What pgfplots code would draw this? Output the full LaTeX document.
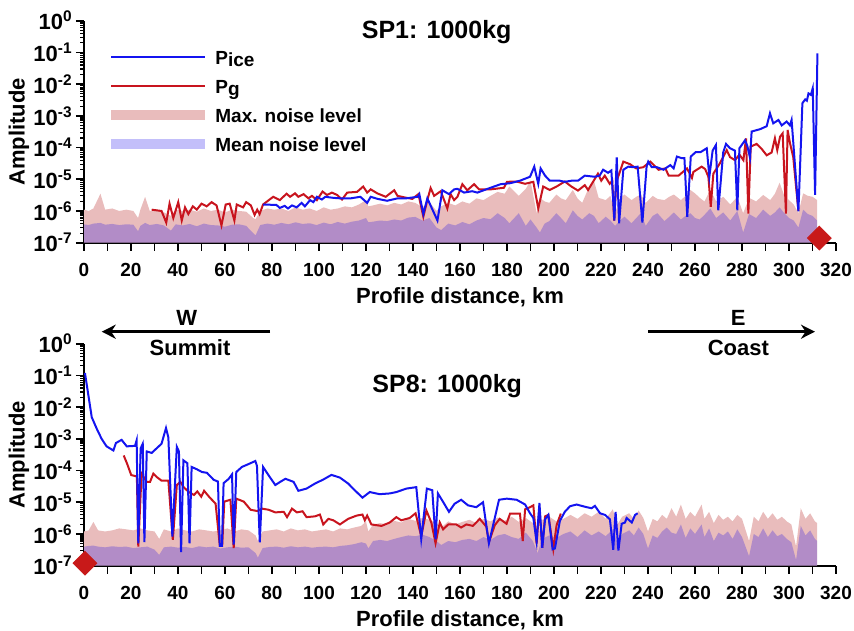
\documentclass[border=0pt]{standalone}
\usepackage{fontspec}
\setmainfont{Liberation Sans}
\usepackage{pgfplots}
\usepackage{pgfplotstable}
\pgfplotsset{compat=1.18}
\usetikzlibrary{arrows.meta}

\definecolor{blueline}{RGB}{20,20,240}
\definecolor{redline}{RGB}{200,20,30}
\definecolor{pinkfill}{RGB}{233,188,188}
\definecolor{meanblue}{RGB}{15,0,235}
\definecolor{diam}{RGB}{200,25,25}

\newcommand\tickfont{\fontsize{9.5}{11}\selectfont\bfseries}
\newcommand\ytickfont{\fontsize{11}{13}\selectfont\bfseries}
\newcommand\labfont{\fontsize{11}{13}\selectfont\bfseries}
\newcommand\legfont{\fontsize{9.5}{11}\selectfont\bfseries}
\newcommand\titfont{\fontsize{12.5}{14}\selectfont\bfseries}

\tikzset{lline/.style={}, larea/.style={}}
\pgfplotsset{
  lline/.style={legend image code/.code={\draw[##1] (0pt,0pt) -- (47pt,0pt);}},
  larea/.style={legend image code/.code={\fill[##1] (0pt,-2.6pt) rectangle (47pt,2.6pt);}},
}

% ---------------- data ----------------
\pgfplotstableread{
x max mean
0 1e-7 1e-7
0 1.1e-6 3.8e-7
2 1.0e-6 3.6e-7
4 1.2e-6 4.0e-7
7 3.5e-6 4.2e-7
9 1.1e-6 3.7e-7
12 1.2e-6 3.9e-7
15 1.0e-6 3.6e-7
18 1.1e-6 3.8e-7
21 1.0e-6 3.7e-7
23 6.0e-7 2.3e-7
24 1.1e-6 3.4e-7
26 2.8e-6 4.2e-7
28 1.0e-6 3.6e-7
31 1.1e-6 3.9e-7
34 9.0e-7 3.5e-7
37 7.0e-7 2.4e-7
39 1.1e-6 3.8e-7
42 1.0e-6 3.5e-7
45 1.1e-6 3.9e-7
48 9.5e-7 3.3e-7
51 1.2e-6 4.0e-7
54 1.0e-6 3.6e-7
57 1.1e-6 3.5e-7
60 9.0e-7 3.2e-7
63 1.1e-6 3.7e-7
66 1.0e-6 3.8e-7
69 9.5e-7 3.4e-7
72 6.0e-7 2.0e-7
73 5.5e-7 1.7e-7
75 1.0e-6 3.6e-7
78 1.2e-6 4.0e-7
81 1.1e-6 3.7e-7
84 1.2e-6 4.2e-7
87 1.0e-6 3.8e-7
90 1.3e-6 4.4e-7
93 1.1e-6 3.9e-7
96 1.2e-6 4.1e-7
99 1.0e-6 3.6e-7
102 1.3e-6 4.3e-7
105 1.1e-6 3.8e-7
108 1.2e-6 4.5e-7
111 1.4e-6 4.0e-7
114 1.3e-6 4.6e-7
117 1.6e-6 5.0e-7
120 2.2e-6 6.0e-7
121 1.4e-6 4.4e-7
123 1.5e-6 4.6e-7
126 1.7e-6 5.0e-7
129 1.5e-6 4.8e-7
132 1.8e-6 5.4e-7
135 1.6e-6 5.0e-7
138 2.0e-6 6.2e-7
141 1.8e-6 6.5e-7
144 1.3e-6 5.0e-7
147 1.9e-6 6.0e-7
150 1.0e-6 3.0e-7
152 1.4e-6 2.5e-7
155 1.8e-6 4.0e-7
158 1.5e-6 3.5e-7
161 2.0e-6 4.5e-7
164 1.7e-6 3.8e-7
167 2.5e-6 5.0e-7
170 2.2e-6 6.0e-7
173 3.0e-6 5.5e-7
176 4.0e-6 8.5e-7
179 3.5e-6 6.0e-7
181 5.9e-6 4.1e-7
185 3.0e-6 8.5e-7
188 5.0e-6 3.4e-7
190 9.0e-6 5.4e-7
192.6 8.5e-7 3.0e-7
194 2.6e-6 2.1e-7
196 2.0e-6 4.0e-7
198 1.8e-6 4.8e-7
201 3.3e-6 8.5e-7
203 2.5e-6 6.0e-7
205 2.2e-6 4.1e-7
208 4.6e-6 1.05e-6
210 2.5e-6 7.0e-7
212 1.8e-6 5.4e-7
215 5.9e-6 8.5e-7
217 9.0e-6 7.0e-7
219 2.6e-6 4.1e-7
222 2.2e-6 6.6e-7
224 3.0e-6 5.0e-7
226 8.5e-7 3.4e-7
228 2.5e-6 5.0e-7
230 3.3e-6 6.6e-7
233 2.2e-6 4.1e-7
235 2.8e-6 6.0e-7
237 3.3e-6 8.5e-7
239 1.8e-6 3.4e-7
242 3.0e-6 7.0e-7
244 2.4e-6 8.5e-7
247 2.2e-6 4.8e-7
249 2.8e-6 6.5e-7
251 3.3e-6 9.0e-7
254 2.2e-6 5.4e-7
256 3.0e-6 7.0e-7
258 4.6e-6 8.5e-7
260 3.6e-6 6.0e-7
262 2.6e-6 5.4e-7
264 2.0e-6 7.5e-7
266.5 4.6e-6 1.2e-6
269 2.0e-6 6.0e-7
272 2.8e-6 9.0e-7
275 1.6e-6 5.0e-7
278 2.8e-6 1.0e-6
280.5 8.5e-7 2.1e-7
283 2.6e-6 8.0e-7
286 2.0e-6 6.0e-7
289 3.2e-6 1.1e-6
292 2.2e-6 7.0e-7
294 3.5e-6 9.0e-7
296 7.8e-6 1.3e-6
298 3.0e-6 8.5e-7
300 2.2e-6 6.0e-7
302 1.6e-6 5.0e-7
304 8.5e-7 3.0e-7
306 3.6e-6 1.1e-6
308 3.0e-6 8.0e-7
310 2.8e-6 7.0e-7
312 2.2e-6 5.0e-7
312 1e-7 1e-7
}\noiseTop

\pgfplotstableread{
x y
28.8 1.1e-6
33 1.0e-6
35 4.3e-7
36.4 1.7e-6
38 6e-7
40.1 1.9e-6
41.6 5e-7
43 1.3e-6
44.4 8e-7
46.3 1.4e-6
48 1.1e-6
50 1.7e-6
52.2 1.4e-6
54.3 1.9e-6
56.4 1.5e-6
58.5 3.5e-7
60.3 1.6e-6
62 1.7e-6
64 5e-7
65 1.6e-6
67.7 1.3e-6
69 1.9e-6
71 1.5e-6
72.6 7.5e-7
73.7 1.1e-6
74.7 8e-7
76.2 1.6e-6
80.5 2.8e-6
83.3 2.2e-6
86.2 3.5e-6
87.7 2.8e-6
89.8 3.6e-6
91.2 2.8e-6
93.4 3.4e-6
95.5 2.5e-6
97 3e-6
99.1 2.2e-6
101.5 4.1e-6
103.4 3.2e-6
105.5 3.8e-6
107.7 3.2e-6
109.8 2.3e-6
112 3.8e-6
116.2 4e-6
118.8 5.9e-6
120.5 3.8e-6
122 4.8e-6
124.8 3.6e-6
128.4 2.8e-6
132 4.5e-6
133.4 3e-6
136.2 2.7e-6
139.7 2.4e-6
142.3 3.4e-6
144.4 6.6e-7
146.1 2.2e-6
147.5 5.3e-6
149 3e-6
151.8 4.2e-6
154.6 1.2e-6
156 3.4e-6
157.5 2.2e-6
158.9 2.8e-6
161 7e-6
163.1 4.5e-6
166 7e-6
168.1 4.8e-6
173 4.8e-6
178.7 5.4e-6
180 8.3e-6
184 8.5e-6
187.7 7.2e-6
191.2 8.3e-6
193.3 1.2e-6
195.4 5.9e-6
198.2 4.6e-6
201.1 5.9e-6
204.6 8.5e-6
207.4 5.9e-6
210.2 4.4e-6
213.1 6.5e-6
214.5 4.6e-6
216.6 8.3e-6
218.7 1.5e-5
220.1 9e-6
221.6 1.3e-5
223.7 7.2e-6
224.8 9e-6
225.6 5e-7
226.5 8e-6
229.5 3.6e-5
232.3 3e-5
235 2.2e-5
238 2.4e-5
241 3.6e-5
244.5 2e-5
247.4 2.2e-5
248.8 1.3e-5
253 1.3e-5
256.6 2.2e-5
258.7 1.1e-5
259.3 1.7e-5
262.8 2.5e-5
264.3 2.1e-5
265.7 1.2e-5
266.7 1.35e-6
267.8 1.5e-5
270.6 3.2e-5
273.5 8.3e-5
274.9 5e-5
277 4e-5
278.9 6e-5
280.6 4e-5
281.7 1.95e-4
282.7 8.3e-7
283.7 1.07e-4
286.2 1.3e-4
288.4 9e-5
290.5 5.7e-5
292.6 7e-5
294 1.95e-4
295 8.3e-5
296.2 2.2e-4
297.3 2.8e-4
298.7 8.3e-7
299.4 3.6e-4
300.4 1.4e-4
301.8 5e-5
304 1e-6
}\pgTop

\pgfplotstableread{
x y
76.2 1.6e-6
81.9 1.55e-6
83.3 1.25e-6
85.4 1.45e-6
86.8 1.2e-6
88.5 1.5e-6
90.5 1.3e-6
92.6 1.8e-6
94.0 1.4e-6
96.2 2.2e-6
97.6 1.9e-6
99.1 2.8e-6
101.2 2.3e-6
102.7 2.8e-6
106 2.6e-6
109.1 2.5e-6
113.4 2.5e-6
117.6 2.8e-6
120.5 1.8e-6
122.0 2.8e-6
125 2.4e-6
129.0 2.1e-6
133.4 2.5e-6
137.0 2.5e-6
142.0 2.8e-6
142.7 3.4e-6
144.4 8e-7
146.1 2.5e-6
150.4 5e-7
152.5 4.5e-6
155.3 3.4e-6
157.5 4.8e-6
158.9 5e-6
161.7 3.8e-6
165.2 4.2e-6
167.4 3.8e-6
173.0 5.4e-6
177.3 7e-6
181.3 7.5e-6
185.5 9e-6
189.8 1.2e-5
191.6 2.5e-5
193.3 7.2e-6
194.3 2.2e-5
196.2 1.3e-5
198.2 9e-6
202.5 9e-6
204.6 8.3e-6
207.4 9e-6
210.2 9e-6
213.1 1.3e-5
217.3 1.2e-5
219.4 1.3e-5
220.9 2e-5
223.0 1.6e-5
224.4 1.9e-5
225.7 5e-7
226.7 4.9e-5
227.7 4.1e-7
229.5 2e-5
231.6 2.5e-5
233.8 2.4e-5
235.6 2.5e-5
237.6 4.3e-7
239.4 2.5e-5
240.1 3.6e-5
241.6 2.4e-5
243.8 2.4e-5
246.6 2e-5
249.5 2.8e-5
250.9 2.2e-5
252.3 5.2e-5
254.5 4.6e-5
255.5 4.6e-5
256.7 6.6e-7
258.2 5.2e-5
260.3 7.2e-5
262.4 7.2e-5
265.0 9.5e-5
266.1 1.2e-5
267.5 8e-5
268.9 1.2e-4
269.9 1.05e-6
272.0 7e-5
273.2 1.3e-4
274.9 9.5e-5
277.0 8e-5
278.0 1.05e-6
278.9 9.5e-5
281.3 1.7e-4
282.3 1.1e-4
283.4 4.8e-5
284.1 3.2e-4
287.7 3.8e-4
290.5 4.7e-4
291.9 1.2e-3
293.3 5.8e-4
295.5 7.4e-4
296.9 5e-4
299.0 6.6e-4
300.4 5e-4
301.1 7.4e-4
304.0 9.7e-7
305.7 2.5e-3
306.9 3.3e-3
307.6 3e-3
308.3 5.1e-3
309.3 4.6e-3
310.1 7.4e-3
311.1 3.2e-6
312.1 9.3e-2
}\piceTop

\pgfplotstableread{
x max mean
0 1e-7 1e-7
0 1.2e-6 4.0e-7
2 1.3e-6 4.2e-7
4 2.4e-6 4.3e-7
6 1.3e-6 4.0e-7
9 1.2e-6 3.8e-7
12 1.3e-6 4.1e-7
15 1.5e-6 3.9e-7
18 1.4e-6 4.0e-7
21 1.3e-6 3.6e-7
24 1.5e-6 3.8e-7
27 1.3e-6 4.0e-7
30 1.2e-6 3.2e-7
32 7.0e-7 2.2e-7
34 1.4e-6 3.8e-7
37 1.2e-6 4.0e-7
40 1.5e-6 3.7e-7
43 1.3e-6 3.9e-7
46 1.2e-6 3.6e-7
49 1.4e-6 4.1e-7
52 1.3e-6 3.8e-7
55 1.2e-6 4.0e-7
58 1.3e-6 3.5e-7
61 1.5e-6 3.8e-7
64 1.2e-6 4.0e-7
67 1.4e-6 3.7e-7
70 1.3e-6 3.8e-7
73 9.0e-7 2.5e-7
74 6.0e-7 1.8e-7
76 1.2e-6 3.6e-7
79 1.3e-6 3.9e-7
82 1.4e-6 4.0e-7
85 1.2e-6 3.7e-7
88 1.5e-6 4.1e-7
91 1.3e-6 3.8e-7
94 1.4e-6 4.0e-7
97 1.2e-6 3.7e-7
100 1.3e-6 3.9e-7
103 1.4e-6 4.0e-7
106 1.2e-6 3.8e-7
109 1.5e-6 4.2e-7
112 1.4e-6 4.4e-7
115 1.6e-6 4.8e-7
118 1.8e-6 5.5e-7
120 2.5e-6 5.0e-7
121 1.2e-6 3.5e-7
123 2.0e-6 6.0e-7
126 2.2e-6 6.5e-7
129 2.0e-6 6.0e-7
132 2.6e-6 7.0e-7
135 2.3e-6 8.0e-7
138 3.0e-6 9.0e-7
141 2.6e-6 8.5e-7
144 3.2e-6 9.5e-7
147 2.8e-6 8.0e-7
150 2.2e-6 6.0e-7
152 1.6e-6 4.5e-7
155 2.5e-6 6.0e-7
158 2.0e-6 5.5e-7
161 2.4e-6 6.5e-7
164 2.8e-6 7.0e-7
167 2.2e-6 6.0e-7
170 3.0e-6 8.0e-7
173 2.5e-6 6.5e-7
176 3.3e-6 9.0e-7
179 2.6e-6 1.0e-6
182 3.5e-6 8.0e-7
185 2.4e-6 7.0e-7
188 3.2e-6 1.1e-6
191 2.2e-6 6.0e-7
193 8.0e-7 2.5e-7
195 2.8e-6 7.0e-7
198 3.5e-6 9.0e-7
201 2.5e-6 7.5e-7
204 3.0e-6 1.0e-6
207 4.0e-6 1.2e-6
210 3.0e-6 8.0e-7
213 4.5e-6 1.3e-6
216 3.5e-6 9.0e-7
219 5.0e-6 1.2e-6
222 3.0e-6 8.5e-7
225 6.0e-6 1.4e-6
227 2.0e-6 5.0e-7
229 3.5e-6 1.0e-6
232 4.5e-6 1.3e-6
234 3.0e-6 9.0e-7
236 5.5e-6 1.6e-6
238 3.2e-6 1.0e-6
240 1.2e-6 3.5e-7
242 3.0e-6 9.0e-7
244 2.5e-6 7.5e-7
246 4.0e-6 1.2e-6
248 3.0e-6 1.6e-6
250 6.5e-6 1.1e-6
252 3.5e-6 1.0e-6
254 8.5e-6 2.0e-6
256 3.0e-6 7.5e-7
258 5.0e-6 1.5e-6
260 3.5e-6 1.0e-6
262.8 8.5e-6 2.0e-6
264 3.0e-6 8.0e-7
266 5.0e-6 1.5e-6
268 2.2e-6 6.0e-7
270 4.0e-6 1.1e-6
272 2.8e-6 9.0e-7
274 3.5e-6 1.2e-6
276 2.5e-6 7.0e-7
278 4.0e-6 1.4e-6
280 3.0e-6 8.0e-7
283 6.0e-7 2.0e-7
285 3.5e-6 1.0e-6
287 2.5e-6 8.0e-7
289 5.0e-6 1.5e-6
291 3.0e-6 8.0e-7
293 4.5e-6 1.3e-6
295 2.8e-6 8.5e-7
297 3.5e-6 1.0e-6
299 2.5e-6 7.0e-7
301 2.0e-6 5.5e-7
303 4.0e-7 1.5e-7
305 6.5e-6 1.8e-6
307 3.0e-6 9.0e-7
309 4.5e-6 1.3e-6
311 2.5e-6 7.0e-7
312 2.2e-6 6.0e-7
312 1e-7 1e-7
}\noiseBot

\pgfplotstableread{
x y
16.9 3e-4
18.4 1.6e-4
20.1 7.2e-5
22.5 6.5e-5
23.1 4e-7
24.5 8e-5
26.7 4.4e-5
28.1 4.4e-5
29.5 8e-5
30.9 6.3e-5
33 4.8e-5
35.9 4.8e-5
37.8 6.5e-7
39.5 3.5e-5
41 4.4e-5
42.4 3e-5
44.6 2.1e-5
46.8 1.7e-5
48.2 2.2e-5
49.9 1.5e-5
51.1 2.3e-5
53.2 1.5e-5
56 9e-6
57.8 4.2e-7
58.8 4.2e-7
59.7 1.05e-5
62.3 1.2e-5
63.7 3.6e-7
64.8 1.3e-5
68 1.05e-5
70.9 5.8e-6
73.7 5.3e-6
75.8 6.3e-6
78.6 5.8e-6
81.4 4.8e-6
85 5e-6
86.4 3.4e-6
88.5 6.3e-6
90.6 4.8e-6
93 5.2e-6
94.7 3.4e-6
98.3 3.6e-6
100.4 4.1e-6
101.8 2e-6
104 3e-6
106.1 2.7e-6
108.9 2e-6
112.4 3e-6
116 3.8e-6
118.5 4.1e-6
119.5 2.7e-6
120.5 3.8e-6
122.3 2e-6
126.6 1.8e-6
130.1 2.3e-6
132.9 3.4e-6
135 2.7e-6
138.6 3.2e-6
141.1 4.5e-6
143.5 8.5e-7
145.7 5.5e-6
147.8 2.3e-6
149.6 5.1e-7
151.4 2.3e-6
152.8 1.4e-6
155 2e-6
158.4 2e-6
160.5 1.6e-6
162.7 2e-6
165.5 1.8e-6
168.4 3e-6
171.2 1.7e-6
172.3 5.5e-7
174.8 1.9e-6
176.9 3e-6
179.8 2.1e-6
181.3 4.4e-6
185.5 4.4e-6
186.7 6e-7
187.7 6e-6
189.8 7e-6
191.2 8e-6
192.6 5e-7
193.8 7e-6
195 3.7e-7
196.2 3.6e-6
197.6 4e-6
199.7 3.3e-7
201.1 1.9e-6
202.9 4.4e-6
}\pgBot

\pgfplotstableread{
x y
0.4 0.12
3.3 4.8e-3
5.4 2.1e-3
7.5 1e-3
9.6 5.8e-4
12.5 4.3e-4
13.6 7.4e-4
16 9.3e-4
18.2 5.8e-4
21.7 6e-4
22.4 9e-4
23.1 5.1e-7
24.1 5e-4
25 7e-4
25.7 5.5e-7
26.7 4e-4
28.8 3.6e-4
33 7e-4
34.9 2.2e-3
35.9 1.1e-3
37.6 8.3e-7
39.5 5.6e-4
40.4 4e-4
41.3 2.7e-7
42.3 2.1e-4
44 1.7e-4
44.9 5.1e-7
45.8 1.3e-4
48 1.1e-4
50.2 9e-5
52.3 8.5e-5
55.2 5.1e-5
57 4.5e-5
57.8 4.2e-7
58.7 4.2e-7
59.4 4e-5
61.6 5.5e-5
63 7.6e-5
63.7 4.6e-7
64.8 9e-5
67.2 1.3e-4
70 1.6e-4
72.9 2e-4
73.6 1.4e-4
74.8 5.5e-7
76.2 1.3e-4
78.6 7e-5
81.4 3.5e-5
83.5 4.4e-5
85.7 5.5e-5
89.2 4.4e-5
91.2 2.3e-5
94.7 2.7e-5
98.3 3.9e-5
101.8 5.2e-5
105.3 7.3e-5
108.9 6e-5
112.4 3.9e-5
115.2 2.4e-5
118.5 1.4e-5
121.6 2.1e-5
125.8 1.8e-5
130.1 1.9e-5
132.9 2.1e-5
137.2 2.7e-5
141.4 3e-5
143.5 7e-7
145.9 2.7e-5
148.2 2.4e-5
149.6 6.8e-7
150.6 1.9e-5
152.8 1.03e-5
155.3 5e-6
157.7 9e-6
160.5 1.2e-5
163.4 8e-6
166.9 7e-6
169.8 1e-5
172.3 5.1e-7
176.6 1.2e-5
179.9 1.3e-5
184.1 1.2e-5
187.7 8.5e-6
189.8 4.5e-6
191.2 3.2e-6
192.6 5.7e-7
193.8 9.5e-6
195 3.7e-7
196.2 2.9e-6
197.6 4e-6
199.4 3.3e-7
200.4 3.5e-7
202.5 2.6e-6
204.6 5e-6
206.8 7.5e-6
209.6 8.5e-6
213.9 7e-6
216 6.5e-6
217.4 7.7e-6
219.6 4.5e-6
221.7 4e-6
223.8 2.9e-6
225.2 3.2e-7
226.2 5e-6
227.4 3e-7
228.8 2.1e-6
230.2 2.3e-6
230.9 3.2e-6
233.1 2.3e-6
234.5 4e-6
235.6 4.5e-6
}\piceBot

\begin{document}
\begin{tikzpicture}[font=\bfseries]
\useasboundingbox (0pt,0pt) rectangle (427pt,315pt);

% ---------------- top panel ----------------
\begin{axis}[at={(42pt,193.65pt)}, anchor=south west,
    scale only axis, width=376pt, height=111pt,
    xmin=0, xmax=320, ymin=1e-7, ymax=1, ymode=log,
    axis x line=bottom, axis y line=left,
    axis line style={-, line width=1pt},
    tick align=outside, major tick length=4pt, minor tick length=2pt,
    tick style={black, line width=0.9pt},
    minor tick style={black, line width=0.6pt},
    xtick={0,10,...,320},
    xticklabels={0,,20,,40,,60,,80,,100,,120,,140,,160,,180,,200,,220,,240,,260,,280,,300,,320},
    ytick={1e-7,1e-6,1e-5,1e-4,1e-3,1e-2,1e-1,1},
    yticklabels={10\textsuperscript{-7},10\textsuperscript{-6},10\textsuperscript{-5},10\textsuperscript{-4},10\textsuperscript{-3},10\textsuperscript{-2},10\textsuperscript{-1},10\textsuperscript{0}},
    minor ytick={2e-7,3e-7,4e-7,5e-7,6e-7,7e-7,8e-7,9e-7,2e-6,3e-6,4e-6,5e-6,6e-6,7e-6,8e-6,9e-6,2e-5,3e-5,4e-5,5e-5,6e-5,7e-5,8e-5,9e-5,2e-4,3e-4,4e-4,5e-4,6e-4,7e-4,8e-4,9e-4,2e-3,3e-3,4e-3,5e-3,6e-3,7e-3,8e-3,9e-3,2e-2,3e-2,4e-2,5e-2,6e-2,7e-2,8e-2,9e-2,0.2,0.3,0.4,0.5,0.6,0.7,0.8,0.9},
    xticklabel style={font=\tickfont, yshift=-2.5pt},
    yticklabel style={font=\ytickfont, inner xsep=1.5pt},
    xlabel={Profile distance, km}, ylabel={Amplitude},
    xlabel style={font=\labfont, anchor=base, at={(rel axis cs:0.5,-0.273)}},
    ylabel style={font=\labfont, anchor=center, at={(rel axis cs:-0.0864,0.5)}},
    clip=false,
    legend style={draw=none, fill=none, at={(rel axis cs:0,1)}, anchor=north west,
      xshift=13pt, yshift=-14.5pt, font=\legfont, inner sep=0pt, row sep=7.5pt, column sep=4.5pt,
      nodes={inner sep=0pt, text height=7pt, text depth=0pt}},
    legend cell align=left,
]
\addlegendimage{color=blueline, line width=1pt, lline}
\addlegendentry{P\raisebox{-1.2pt}{ice}}
\addlegendimage{color=redline, line width=1pt, lline}
\addlegendentry{P\raisebox{-1.2pt}{g}}
\addlegendimage{fill=pinkfill, draw=none, larea}
\addlegendentry{Max. noise level}
\addlegendimage{fill=meanblue, fill opacity=0.25, draw=none, larea}
\addlegendentry{Mean noise level}

\addplot[fill=pinkfill, draw=none, forget plot] table[x=x, y=max] {\noiseTop};
\addplot[fill=meanblue, fill opacity=0.25, draw=none, forget plot] table[x=x, y=mean] {\noiseTop};
\addplot[color=redline, line width=1pt, forget plot] table[x=x, y=y] {\pgTop};
\addplot[color=blueline, line width=1pt, forget plot] table[x=x, y=y] {\piceTop};
\addplot[only marks, mark=square*, mark size=4.2pt, mark options={rotate=45, fill=diam, draw=diam}, forget plot] coordinates {(312.9,1.4e-7)};
\node[font=\titfont, anchor=base] at (rel axis cs:0.469,1) [yshift=-8.8pt] {SP1: 1000kg};
\end{axis}

% ---------------- bottom panel ----------------
\begin{axis}[at={(42pt,32.15pt)}, anchor=south west,
    scale only axis, width=376pt, height=111pt,
    xmin=0, xmax=320, ymin=1e-7, ymax=1, ymode=log,
    axis x line=bottom, axis y line=left,
    axis line style={-, line width=1pt},
    tick align=outside, major tick length=4pt, minor tick length=2pt,
    tick style={black, line width=0.9pt},
    minor tick style={black, line width=0.6pt},
    xtick={0,10,...,320},
    xticklabels={0,,20,,40,,60,,80,,100,,120,,140,,160,,180,,200,,220,,240,,260,,280,,300,,320},
    ytick={1e-7,1e-6,1e-5,1e-4,1e-3,1e-2,1e-1,1},
    yticklabels={10\textsuperscript{-7},10\textsuperscript{-6},10\textsuperscript{-5},10\textsuperscript{-4},10\textsuperscript{-3},10\textsuperscript{-2},10\textsuperscript{-1},10\textsuperscript{0}},
    minor ytick={2e-7,3e-7,4e-7,5e-7,6e-7,7e-7,8e-7,9e-7,2e-6,3e-6,4e-6,5e-6,6e-6,7e-6,8e-6,9e-6,2e-5,3e-5,4e-5,5e-5,6e-5,7e-5,8e-5,9e-5,2e-4,3e-4,4e-4,5e-4,6e-4,7e-4,8e-4,9e-4,2e-3,3e-3,4e-3,5e-3,6e-3,7e-3,8e-3,9e-3,2e-2,3e-2,4e-2,5e-2,6e-2,7e-2,8e-2,9e-2,0.2,0.3,0.4,0.5,0.6,0.7,0.8,0.9},
    xticklabel style={font=\tickfont, yshift=-2.5pt},
    yticklabel style={font=\ytickfont, inner xsep=1.5pt},
    xlabel={Profile distance, km}, ylabel={Amplitude},
    xlabel style={font=\labfont, anchor=base, at={(rel axis cs:0.5,-0.273)}},
    ylabel style={font=\labfont, anchor=center, at={(rel axis cs:-0.0864,0.5)}},
    clip=false,
]
\addplot[fill=pinkfill, draw=none] table[x=x, y=max] {\noiseBot};
\addplot[fill=meanblue, fill opacity=0.25, draw=none] table[x=x, y=mean] {\noiseBot};
\addplot[color=redline, line width=1pt] table[x=x, y=y] {\pgBot};
\addplot[color=blueline, line width=1pt] table[x=x, y=y] {\piceBot};
\addplot[only marks, mark=square*, mark size=4.2pt, mark options={rotate=45, fill=diam, draw=diam}] coordinates {(0.4,1.2e-7)};
\node[font=\titfont, anchor=base] at (rel axis cs:0.483,1) [yshift=-24.5pt] {SP8: 1000kg};
\end{axis}

% ---------------- direction arrows ----------------
\draw[line width=1.5pt, -{Stealth[length=7pt, width=7pt]}] (135pt,149.15pt) -- (50.85pt,149.15pt);
\node[font=\labfont, anchor=base] at (93.35pt,152pt) {W};
\node[font=\labfont, anchor=base] at (95pt,137.2pt) {Summit};
\draw[line width=1.5pt, -{Stealth[length=7pt, width=7pt]}] (324.15pt,149.15pt) -- (407.5pt,149.15pt);
\node[font=\labfont, anchor=base] at (369.15pt,152pt) {E};
\node[font=\labfont, anchor=base] at (369.15pt,137.2pt) {Coast};
\end{tikzpicture}
\end{document}
